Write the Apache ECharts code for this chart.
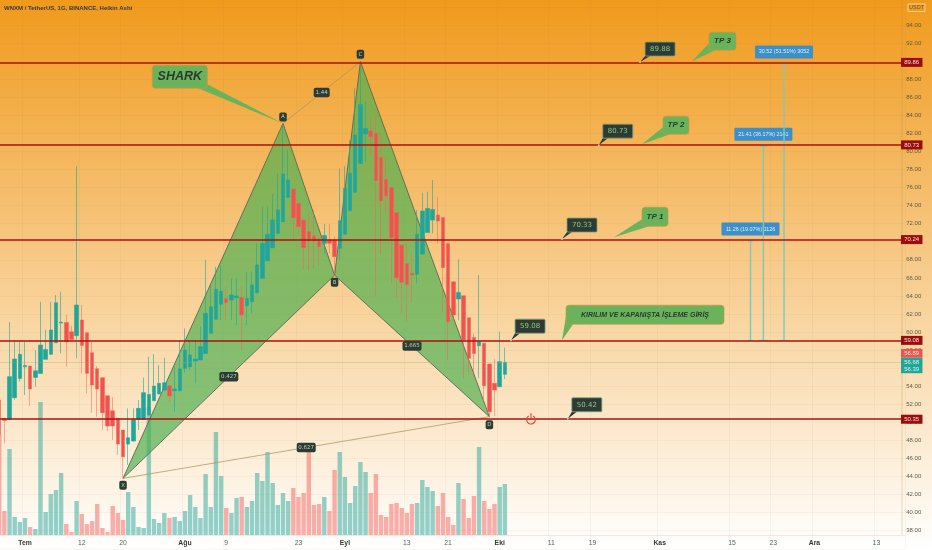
<!DOCTYPE html>
<html><head><meta charset="utf-8">
<style>html,body{margin:0;padding:0;background:#fff}#c{width:932px;height:550px}</style>
<script src="https://cdn.jsdelivr.net/npm/echarts@6/dist/echarts.min.js"></script>
</head><body><div id="c"></div>
<script>
const titleText = 'WNXM / TetherUS, 1G, BINANCE, Heikin Ashi';
const firstDay = -5, lastDay = 170;
const tickDays = [0,11,19,31,39,53,62,74,82,92,102,110,123,137,145,153,165];
const tickLabels = ['Tem','12','20','Ağu','9','23','Eyl','13','21','Eki','11','19','Kas','15','23','Ara','13'];
const monthLabels = ['Tem','Ağu','Eyl','Eki','Kas','Ara'];

const openP = [52.47,50.4,50.33,52.73,54.87,56.15,56.24,54.98,55.42,56.98,
57.53,58.82,61.0,61.07,60.04,59.6,61.34,59.93,57.72,55.94,
54.95,52.95,51.29,50.41,49.15,47.6,47.93,50.33,50.33,50.81,
52.4,53.14,53.58,54.06,53.5,53.51,55.98,56.17,56.79,56.9,
57.64,59.86,61.41,63.07,63.73,63.55,63.81,63.84,62.92,63.36,
64.36,65.95,67.9,69.34,70.93,72.22,74.92,75.84,74.25,72.41,
71.12,70.64,70.31,69.83,70.19,70.19,69.27,70.82,73.44,75.47,
78.68,81.93,82.26,82.01,79.35,76.91,76.02,73.22,69.64,67.6,
66.5,66.39,68.64,71.03,72.41,72.96,72.7,69.82,65.57,63.66,
64.03,61.59,59.41,58.49,58.75,56.46,54.32,53.95,55.32];
const closeP = [48.6,50.2,55.06,57.01,57.53,56.3,53.69,55.72,58.56,58.08,
60.23,63.25,61.1,58.93,59.19,62.99,58.5,55.43,54.13,53.69,
51.07,49.59,49.59,47.6,46.2,48.3,50.33,51.55,53.29,53.1,
54.02,54.32,54.39,52.92,53.7,55.91,58.01,57.46,57.01,58.38,
62.07,62.81,64.73,64.51,63.25,64.1,63.99,61.89,63.73,65.21,
67.42,69.82,70.82,72.41,73.52,77.5,76.84,72.67,71.67,69.34,
70.08,70.08,69.46,70.68,69.83,68.35,72.33,75.92,77.57,81.82,
85.21,82.55,81.64,76.76,74.51,75.1,70.45,66.02,65.5,65.28,
66.3,70.82,73.4,73.69,73.58,72.29,67.13,61.15,61.89,64.39,
59.12,57.09,57.64,58.93,54.06,51.18,53.58,56.72,56.65];
const lowP = [48.0,47.68,50.2,52.5,54.5,53.03,51.81,53.95,55.4,56.98,
57.5,58.8,57.64,56.16,58.93,57.09,55.43,53.21,51.07,50.63,
49.15,49.08,48.04,46.38,43.8,45.28,47.9,49.15,50.3,50.8,
52.4,53.1,53.5,52.29,51.18,53.5,55.5,55.8,54.32,56.9,
57.64,59.8,61.4,61.33,61.33,61.33,60.78,58.0,60.78,62.07,
64.3,65.9,67.9,69.3,70.9,72.2,74.9,70.38,70.75,66.87,
66.87,67.05,67.42,68.71,68.72,66.13,67.98,70.8,73.4,75.4,
78.6,78.87,79.42,63.92,68.71,73.14,65.39,63.73,62.07,61.15,
63.36,65.39,68.6,71.0,70.93,69.83,62.25,56.9,61.15,61.33,
54.87,55.24,55.06,54.87,52.18,50.63,50.7,53.9,54.8];
const highP = [53.0,50.5,61.11,59.12,58.94,58.94,56.24,58.0,63.36,60.23,
63.36,64.1,64.47,61.89,60.67,78.39,62.99,59.93,58.9,56.24,
54.95,52.95,52.77,50.41,49.15,51.55,51.55,52.47,54.95,57.27,
57.57,56.35,57.16,54.06,56.16,59.12,60.41,59.12,59.12,60.6,
67.98,65.21,67.24,67.42,65.03,65.95,65.95,65.03,66.69,66.69,
69.82,73.88,73.88,75.29,77.57,83.11,80.16,75.84,74.25,72.41,
73.14,73.52,70.57,71.96,71.96,70.57,78.13,78.38,81.27,86.99,
89.94,85.51,83.85,83.85,82.01,79.42,76.02,73.22,69.64,69.82,
68.71,73.52,75.43,75.54,76.84,74.99,72.7,69.82,65.57,68.04,
64.03,61.59,59.86,66.32,58.75,56.46,57.0,60.04,58.27];
const volumes = [100,24,86,18,13,17,8,6,133,23,41,45,62,11,3,34,21,11,14,31,
7,3,29,22,15,43,28,8,7,128,16,12,22,17,18,14,24,40,28,17,
61,28,103,59,27,22,37,38,28,34,62,54,83,52,30,42,34,47,38,42,
87,30,31,38,24,65,83,58,32,49,73,63,42,61,20,18,31,32,27,22,
31,32,55,48,44,29,42,18,10,52,36,17,39,88,34,26,31,48,51];

const levelPrices = [89.86,80.73,70.24,59.08,50.35];
const lastPrice = 56.65;

// X A B C D harmonic pattern
const patternNames = ['X','A','B','C','D'];
const patternDays = [19,50,60,65,90];
const patternPrices = [43.8,83.1,66.3,89.94,50.63];
const ratioLabels = [{from:1,to:3,text:'1.44'},{from:0,to:2,text:'0.427'},{from:2,to:4,text:'1.665'},{from:0,to:4,text:'0.627'}];

const noteTexts = ['SHARK','TP 3','TP 2','TP 1','KIRILIM VE KAPANIŞTA İŞLEME GİRİŞ'];
const noteDays = [50,129.26,119.57,114.15,104.07];
const notePrices = [83.1,90,80.8,70.5,59.1];
const priceNoteTexts = ['89.88','80.73','70.33','59.08','50.42'];
const priceNoteDays = [119.2,111.2,104.07,94.2,105.2];
const priceNotePrices = [89.9,80.7,70.3,59.1,50.4];

const measureDays = [140.6,143.1,147.1];
const measureTops = [70.24,80.73,89.86];
const measureBase = 59.08;
const measureTexts = ['11.26 (19.07%) 1126','21.41 (36.17%) 2141','30.52 (51.51%) 3052'];

const tagPrices = [89.86,80.73,70.24,59.08,50.35];
const stackedPrices = ['56.89','56.68','56.39'];
const powerDay = 98.06, powerPrice = 50.35;

const categories = [];
for (let d = firstDay; d <= lastDay; d++) categories.push('D' + d);
const candleData = openP.map((o,i)=>[o,closeP[i],lowP[i],highP[i]]);
const volumeData = volumes.map((v,i)=>({value:v,itemStyle:{color:closeP[i]>=openP[i]?'rgba(38,166,154,0.5)':'rgba(245,90,85,0.48)'}}));

const bandW = 5.16, gridLeft = -3.38, gridWidth = (lastDay-firstDay+1)*bandW;
const F = 'Liberation Sans';
const noteBoxes = [
 {dx:-130.7,dy:-58.3,w:55,h:23,base:[[46,23],[55,19]],font:'italic bold 12.5px '+F},
 {dx:17,dy:-29,w:27,h:18,base:[[0,11],[6,18]],font:'italic bold 8px '+F},
 {dx:21,dy:-28,w:26,h:18,base:[[0,11],[7,18]],font:'italic bold 8px '+F},
 {dx:28,dy:-30,w:26,h:19,base:[[0,12],[7,19]],font:'italic bold 8px '+F},
 {dx:4,dy:-35,w:158,h:19,base:[[0,11],[7,19]],font:'italic bold 7px '+F}
];
const priceBoxes = [[5,-20],[4,-21],[5,-21],[4,-21],[4,-21]];

function noteItem(p,api){
  const i=p.dataIndex, c=api.coord([noteDays[i],notePrices[i]]), b=noteBoxes[i];
  const x=c[0]+b.dx,y=c[1]+b.dy;
  return {type:'group',children:[
    {type:'polygon',shape:{points:[[x+b.base[0][0],y+b.base[0][1]],[x+b.base[1][0],y+b.base[1][1]],c]},style:{fill:'#6AB35B'}},
    {type:'rect',shape:{x,y,width:b.w,height:b.h,r:3},style:{fill:'#6AB35B',stroke:'rgba(205,150,70,0.7)',lineWidth:1}},
    {type:'text',style:{text:noteTexts[i],x:x+b.w/2,y:y+b.h/2,align:'center',verticalAlign:'middle',fill:'#2b3a33',font:b.font}}
  ]};
}
function priceNoteItem(p,api){
  const i=p.dataIndex, c=api.coord([priceNoteDays[i],priceNotePrices[i]]), o=priceBoxes[i];
  const x=c[0]+o[0],y=c[1]+o[1],w=30,h=14;
  return {type:'group',children:[
    {type:'polygon',shape:{points:[[x,y+h],[x+5,y+h],c]},style:{fill:'#2E3A33'}},
    {type:'circle',shape:{cx:c[0],cy:c[1],r:1},style:{fill:'#9fd8d0'}},
    {type:'rect',shape:{x,y,width:w,height:h,r:1},style:{fill:'#2E3A33',stroke:'rgba(120,165,125,0.8)',lineWidth:1}},
    {type:'text',style:{text:priceNoteTexts[i],x:x+w/2,y:y+h/2,align:'center',verticalAlign:'middle',fill:'#86CC7E',font:'7px "DejaVu Sans"'}}
  ]};
}
function patternItem(p,api){
  const pts=patternDays.map((d,i)=>api.coord([d,patternPrices[i]]));
  const tri=a=>({type:'polygon',shape:{points:a},style:{fill:'rgba(76,175,80,0.68)',stroke:'rgba(85,100,85,0.85)',lineWidth:1}});
  const line=(a,b)=>({type:'line',shape:{x1:a[0],y1:a[1],x2:b[0],y2:b[1]},style:{stroke:'rgba(170,150,95,0.75)',lineWidth:1}});
  return {type:'group',children:[tri([pts[0],pts[1],pts[2]]),tri([pts[2],pts[3],pts[4]]),line(pts[1],pts[3]),line(pts[0],pts[4])]};
}
function patternLabelItem(p,api){
  const pts=patternDays.map((d,i)=>api.coord([d,patternPrices[i]]));
  const kids=[];
  const box=(cx,cy,w,h,t)=>{kids.push({type:'rect',shape:{x:cx-w/2,y:cy-h/2,width:w,height:h,r:2},style:{fill:'#2E3A33'}});
    kids.push({type:'text',style:{text:t,x:cx,y:cy,align:'center',verticalAlign:'middle',fill:'#a8dcb0',font:'5.5px "DejaVu Sans"'}});};
  ratioLabels.forEach(r=>{const a=pts[r.from],b=pts[r.to];box((a[0]+b[0])/2,(a[1]+b[1])/2,r.text.length>4?19:16,9.5,r.text);});
  const shift=[7,-6.5,7,-7.5,8];
  patternNames.forEach((n,i)=>box(pts[i][0],pts[i][1]+shift[i],7.5,9,n));
  return {type:'group',children:kids};
}
function measureItem(p,api){
  const i=p.dataIndex,t=api.coord([measureDays[i],measureTops[i]]),b=api.coord([measureDays[i],measureBase]);
  const lc='#7CC9BB',w=58,h=13;
  const capW=[3,5,5][i];
  return {type:'group',children:[
    {type:'line',shape:{x1:t[0],y1:t[1],x2:b[0],y2:b[1]},style:{stroke:lc,lineWidth:1.4}},
    {type:'line',shape:{x1:b[0]-capW,y1:b[1],x2:b[0]+capW,y2:b[1]},style:{stroke:lc,lineWidth:1}},
    {type:'polygon',shape:{points:[[t[0]-capW,t[1]+2],[t[0],t[1]],[t[0]+capW,t[1]+2]]},style:{fill:lc}},
    {type:'rect',shape:{x:t[0]-w/2,y:t[1]-h-4,width:w,height:h,r:1},style:{fill:'#3D8FC9'}},
    {type:'text',style:{text:measureTexts[i],x:t[0],y:t[1]-h/2-4,align:'center',verticalAlign:'middle',fill:'#dff1f4',font:'5.4px '+F}}
  ]};
}
function tagItem(p,api){
  const c=api.coord([lastDay,tagPrices[p.dataIndex]]),x=p.coordSys.x+p.coordSys.width-3.8;
  return {type:'group',children:[
    {type:'rect',shape:{x,y:c[1]-4.5,width:21.5,height:9},style:{fill:'#9B0D0D'}},
    {type:'text',style:{text:tagPrices[p.dataIndex].toFixed(2),x:x+10.7,y:c[1],align:'center',verticalAlign:'middle',fill:'#f6dcd4',font:'6px '+F}}
  ]};
}
function stackedTagItem(p,api){
  const c=api.coord([lastDay,lastPrice]),x=p.coordSys.x+p.coordSys.width-3.8;
  return {type:'group',children:[
    {type:'rect',shape:{x,y:c[1]-13.3,width:21.5,height:8.6},style:{fill:'#F0544F'}},
    {type:'rect',shape:{x,y:c[1]-4.7,width:21.5,height:15.6},style:{fill:'#22A699'}},
    {type:'text',style:{text:stackedPrices[0],x:x+10.7,y:c[1]-9,align:'center',verticalAlign:'middle',fill:'#fde3da',font:'6px '+F}},
    {type:'text',style:{text:stackedPrices[1],x:x+10.7,y:c[1]+0.4,align:'center',verticalAlign:'middle',fill:'#d8f3ea',font:'6px '+F}},
    {type:'text',style:{text:stackedPrices[2],x:x+10.7,y:c[1]+7.4,align:'center',verticalAlign:'middle',fill:'#d8f3ea',font:'6px '+F}}
  ]};
}
function powerItem(p,api){
  const c=api.coord([powerDay,powerPrice]),red='#E8473C';
  return {type:'group',children:[
    {type:'arc',shape:{cx:c[0],cy:c[1]+0.5,r:4.3,startAngle:-Math.PI/3,endAngle:-2*Math.PI/3,clockwise:true},style:{stroke:red,fill:null,lineWidth:1.2}},
    {type:'line',shape:{x1:c[0],y1:c[1]-6,x2:c[0],y2:c[1]-0.5},style:{stroke:red,lineWidth:1.2}}
  ]};
}
const overlay=(name,data,render,z)=>({name,type:'custom',xAxisIndex:1,yAxisIndex:0,coordinateSystem:'cartesian2d',data,renderItem:render,z,silent:true,clip:false,animation:false,encode:{x:0,y:1}});

const chart=echarts.init(document.getElementById('c'),null,{renderer:'canvas'});
chart.setOption({
  animation:false,
  backgroundColor:new echarts.graphic.LinearGradient(0,0,0,1,[{offset:0,color:'#F09A1C'},{offset:1,color:'#FFFFFF'}]),
  title:{text:titleText,left:4,top:5.5,padding:0,textStyle:{fontSize:6,fontWeight:'bold',color:'#3a3a3a',fontFamily:F}},
  graphic:[
    {type:'line',shape:{x1:902,y1:0,x2:902,y2:535},style:{stroke:'rgba(170,130,70,0.28)',lineWidth:1},z:0},
    {type:'rect',shape:{x:908,y:4,width:17,height:7.5},style:{fill:'rgba(0,0,0,0)',stroke:'rgba(245,215,160,0.85)',lineWidth:1},z:10},
    {type:'text',style:{text:'USDT',x:916.5,y:7.8,align:'center',verticalAlign:'middle',fill:'#6b5a3a',font:'5.5px '+F},z:10}
  ],
  grid:[
    {left:gridLeft,top:-11.1,width:gridWidth,height:559.9,outerBoundsMode:'none'},
    {left:gridLeft,top:335,width:gridWidth,height:200,outerBoundsMode:'none'}
  ],
  xAxis:[
    {type:'category',gridIndex:0,data:categories,position:'bottom',axisLine:{show:false},axisTick:{show:false},axisLabel:{show:false},
     splitLine:{show:true,interval:(i)=>tickDays.includes(i+firstDay),lineStyle:{color:'rgba(160,120,60,0.06)',width:1}}},
    {type:'value',gridIndex:0,min:firstDay-0.5,max:lastDay+0.5,position:'top',show:false,splitLine:{show:false}},
    {type:'category',gridIndex:1,data:categories,position:'bottom',
     axisLine:{show:true,lineStyle:{color:'rgba(190,170,130,0.25)'}},axisTick:{show:false},splitLine:{show:false},
     axisLabel:{show:true,interval:(i)=>tickDays.includes(i+firstDay),margin:5,hideOverlap:false,fontFamily:F,
       formatter:(v,i)=>{const l=tickLabels[tickDays.indexOf(i+firstDay)]||'';return monthLabels.includes(l)?'{m|'+l+'}':'{d|'+l+'}';},
       rich:{m:{fontSize:6.8,fontWeight:'bold',color:'#2f3a33',fontFamily:F},d:{fontSize:6.8,color:'#4a6f5c',fontFamily:F}}}}
  ],
  yAxis:[
    {type:'value',gridIndex:0,min:36,max:98,interval:2,position:'right',axisLine:{show:false},axisTick:{show:false},
     axisLabel:{show:true,margin:1.5,fontSize:6,color:'#5a5a44',fontFamily:F,align:'left',formatter:v=>(v<38||v>94)?'':v.toFixed(2)},
     splitLine:{show:true,lineStyle:{color:'rgba(160,120,60,0.06)',width:1}}},
    {type:'value',gridIndex:1,min:0,max:200,show:false,splitLine:{show:false}}
  ],
  series:[
    {name:'Volume',type:'bar',xAxisIndex:2,yAxisIndex:1,data:volumeData,barWidth:4.4,z:1,silent:true},
    overlay('Pattern',[[0,0]],patternItem,2),
    {name:'WNXM',type:'candlestick',xAxisIndex:0,yAxisIndex:0,data:candleData,barWidth:4,z:3,silent:true,
     itemStyle:{color:'#22A699',color0:'#F2524E',borderColor:'rgba(34,166,153,0.6)',borderColor0:'rgba(242,100,85,0.5)',borderColorDoji:'rgba(34,166,153,0.6)',borderWidth:1},
     markLine:{silent:true,symbol:'none',animation:false,label:{show:false},
       data:[{yAxis:lastPrice,lineStyle:{color:'rgba(170,160,120,0.32)',width:1,type:'solid'}}].concat(levelPrices.map(v=>({yAxis:v,lineStyle:{color:'#AE0F0F',width:1.6,type:'solid'}})))}},
    overlay('Measures',measureDays.map((d,i)=>[d,measureTops[i]]),measureItem,4),
    overlay('PatternLabels',[[0,0]],patternLabelItem,5),
    overlay('Notes',noteDays.map((d,i)=>[d,notePrices[i]]),noteItem,6),
    overlay('PriceNotes',priceNoteDays.map((d,i)=>[d,priceNotePrices[i]]),priceNoteItem,6),
    overlay('Tags',tagPrices.map(v=>[lastDay,v]),tagItem,7),
    overlay('LastTags',[[lastDay,lastPrice]],stackedTagItem,7),
    overlay('Power',[[powerDay,powerPrice]],powerItem,7)
  ]
});
</script></body></html>
